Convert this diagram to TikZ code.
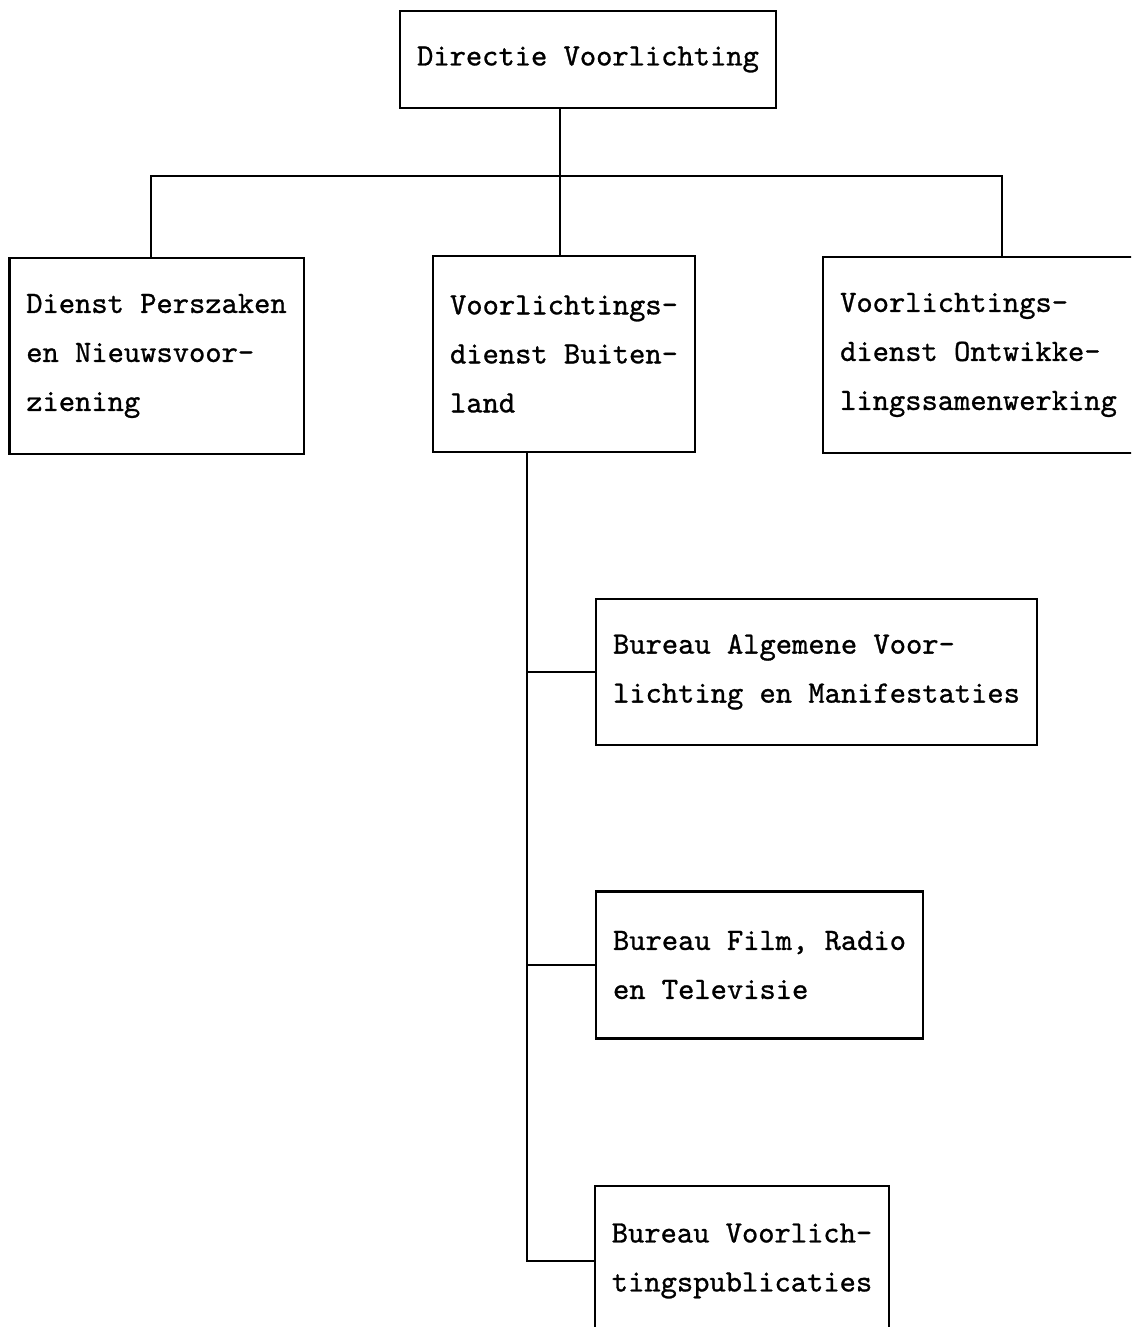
\documentclass[tikz,border=0pt]{standalone}
\usepackage{fontspec}
% slab-serif typewriter face, slightly emboldened
\newfontfamily\typewriter{lmmono10-regular.otf}[FakeBold=0.9]
\begin{document}
\begin{tikzpicture}[x=0.5pt,y=-0.5pt,
  orgbox/.style={draw, line width=1.2pt, align=left, inner xsep=8.5pt,
    font=\typewriter\fontsize{15.5}{24.5}\selectfont},
  link/.style={line width=1.2pt}]
\useasboundingbox (0,0) rectangle (1131,1327);
\clip (0,0) rectangle (1131,1327);

% top level
\node[orgbox, minimum height=48.5pt] (top) at (588,59.5) {Directie Voorlichting};

% second level
\node[orgbox, minimum height=98pt] (left) at (156.5,356)
  {Dienst Perszaken\\en Nieuwsvoor-\\ziening};
\node[orgbox, minimum height=98pt] (mid) at (564,354)
  {Voorlichtings-\\dienst Buiten-\\land};
\node[orgbox, minimum height=98pt] (right) at (993.5,355)
  {Voorlichtings-\\dienst Ontwikke-\\lingssamenwerking\hspace*{15pt}};

% bureaus under Voorlichtingsdienst Buitenland
\node[orgbox, minimum height=73pt] (bav) at (816.5,672)
  {Bureau Algemene Voor-\\lichting en Manifestaties};
\node[orgbox, minimum height=73.5pt] (bfr) at (759.5,965)
  {Bureau Film, Radio\\en Televisie};
\node[orgbox, minimum height=75pt] (bvp) at (742,1261)
  {Bureau Voorlich-\\tingspublicaties};

% connector anchors
\coordinate (busL) at (151,176);
\coordinate (busM) at (560,176);
\coordinate (busR) at (1002,176);
\coordinate (trunk) at (527,0);

% connectors
\draw[link] (busM |- top.south) -- (busM |- mid.north);
\draw[link] (busL |- left.north) -- (busL) -- (busR) -- (busR |- right.north);
\draw[link] (trunk |- mid.south) -- (trunk |- bvp.west) -- (bvp.west);
\draw[link] (trunk |- bav.west) -- (bav.west);
\draw[link] (trunk |- bfr.west) -- (bfr.west);
\end{tikzpicture}
\end{document}
